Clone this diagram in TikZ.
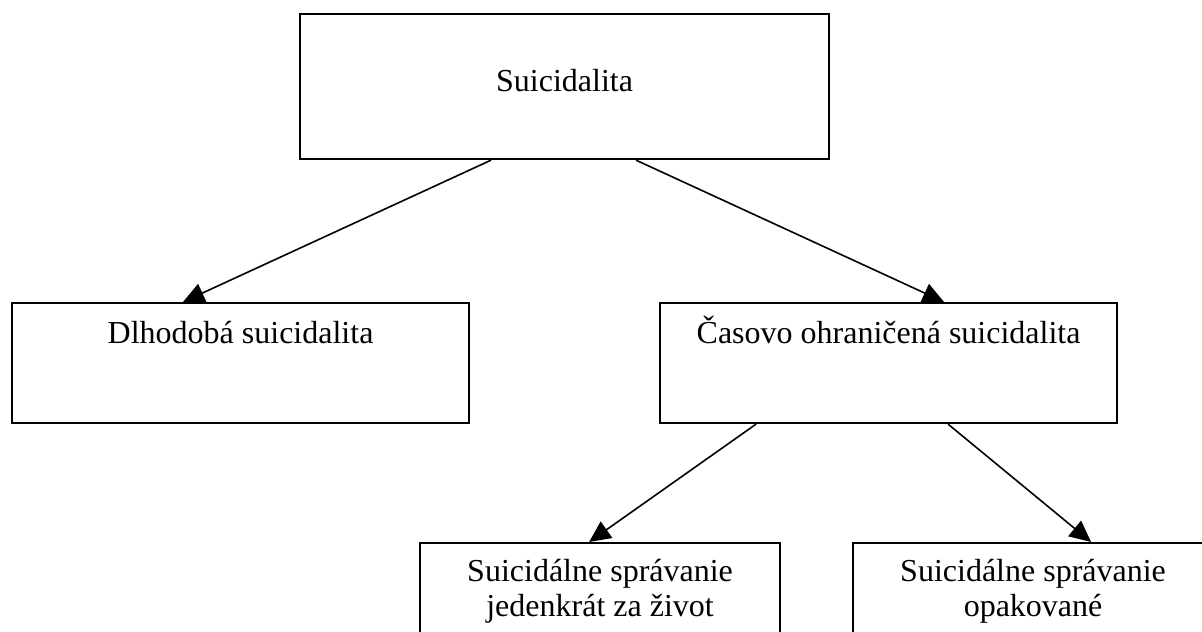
\documentclass[tikz,border=0pt]{standalone}
\usepackage{fontspec}
\setmainfont{Liberation Serif}
\usetikzlibrary{arrows.meta,positioning}

\begin{document}
\begin{tikzpicture}[
  x=0.375pt, y=-0.375pt,
  box/.style={draw, line width=0.8pt, fill=white, align=center, inner xsep=2pt, font=\fontsize{12}{13.2}\selectfont},
  upper/.style={box, anchor=north west, minimum width=171.4pt, inner ysep=6pt, text height=9pt, text depth=24pt},
  lower/.style={box, anchor=north west, minimum width=135pt, inner ysep=6pt},
  arrow/.style={-{Triangle[length=8pt, width=7.5pt]}, line width=0.6pt}
]
\useasboundingbox (0,0) rectangle (1202,632);
\clip (0,0) rectangle (1202,632);

\node[box, anchor=north west, minimum width=198.4pt, minimum height=54.4pt, text height=8pt, text depth=4pt] (suic) at (299,13) {Suicidalita};
\node[upper] (long) at (11,302) {Dlhodobá suicidalita};
\node[upper] (timed) at (659,302) {Časovo ohraničená suicidalita};
\node[lower] (once) at (419,542) {Suicidálne správanie\\jedenkrát za život};
\node[lower] (rep) at (852,542) {Suicidálne správanie\\opakované};

\draw[arrow] ([xshift=-27.6pt]suic.south) -- ([xshift=-21.6pt]long.north);
\draw[arrow] ([xshift=26.8pt]suic.south) -- ([xshift=20.8pt]timed.north);
\draw[arrow] ([xshift=-49.7pt]timed.south) -- ([xshift=-4.1pt]once.north);
\draw[arrow] ([xshift=22.3pt]timed.south) -- ([xshift=21.75pt]rep.north);

\end{tikzpicture}
\end{document}
